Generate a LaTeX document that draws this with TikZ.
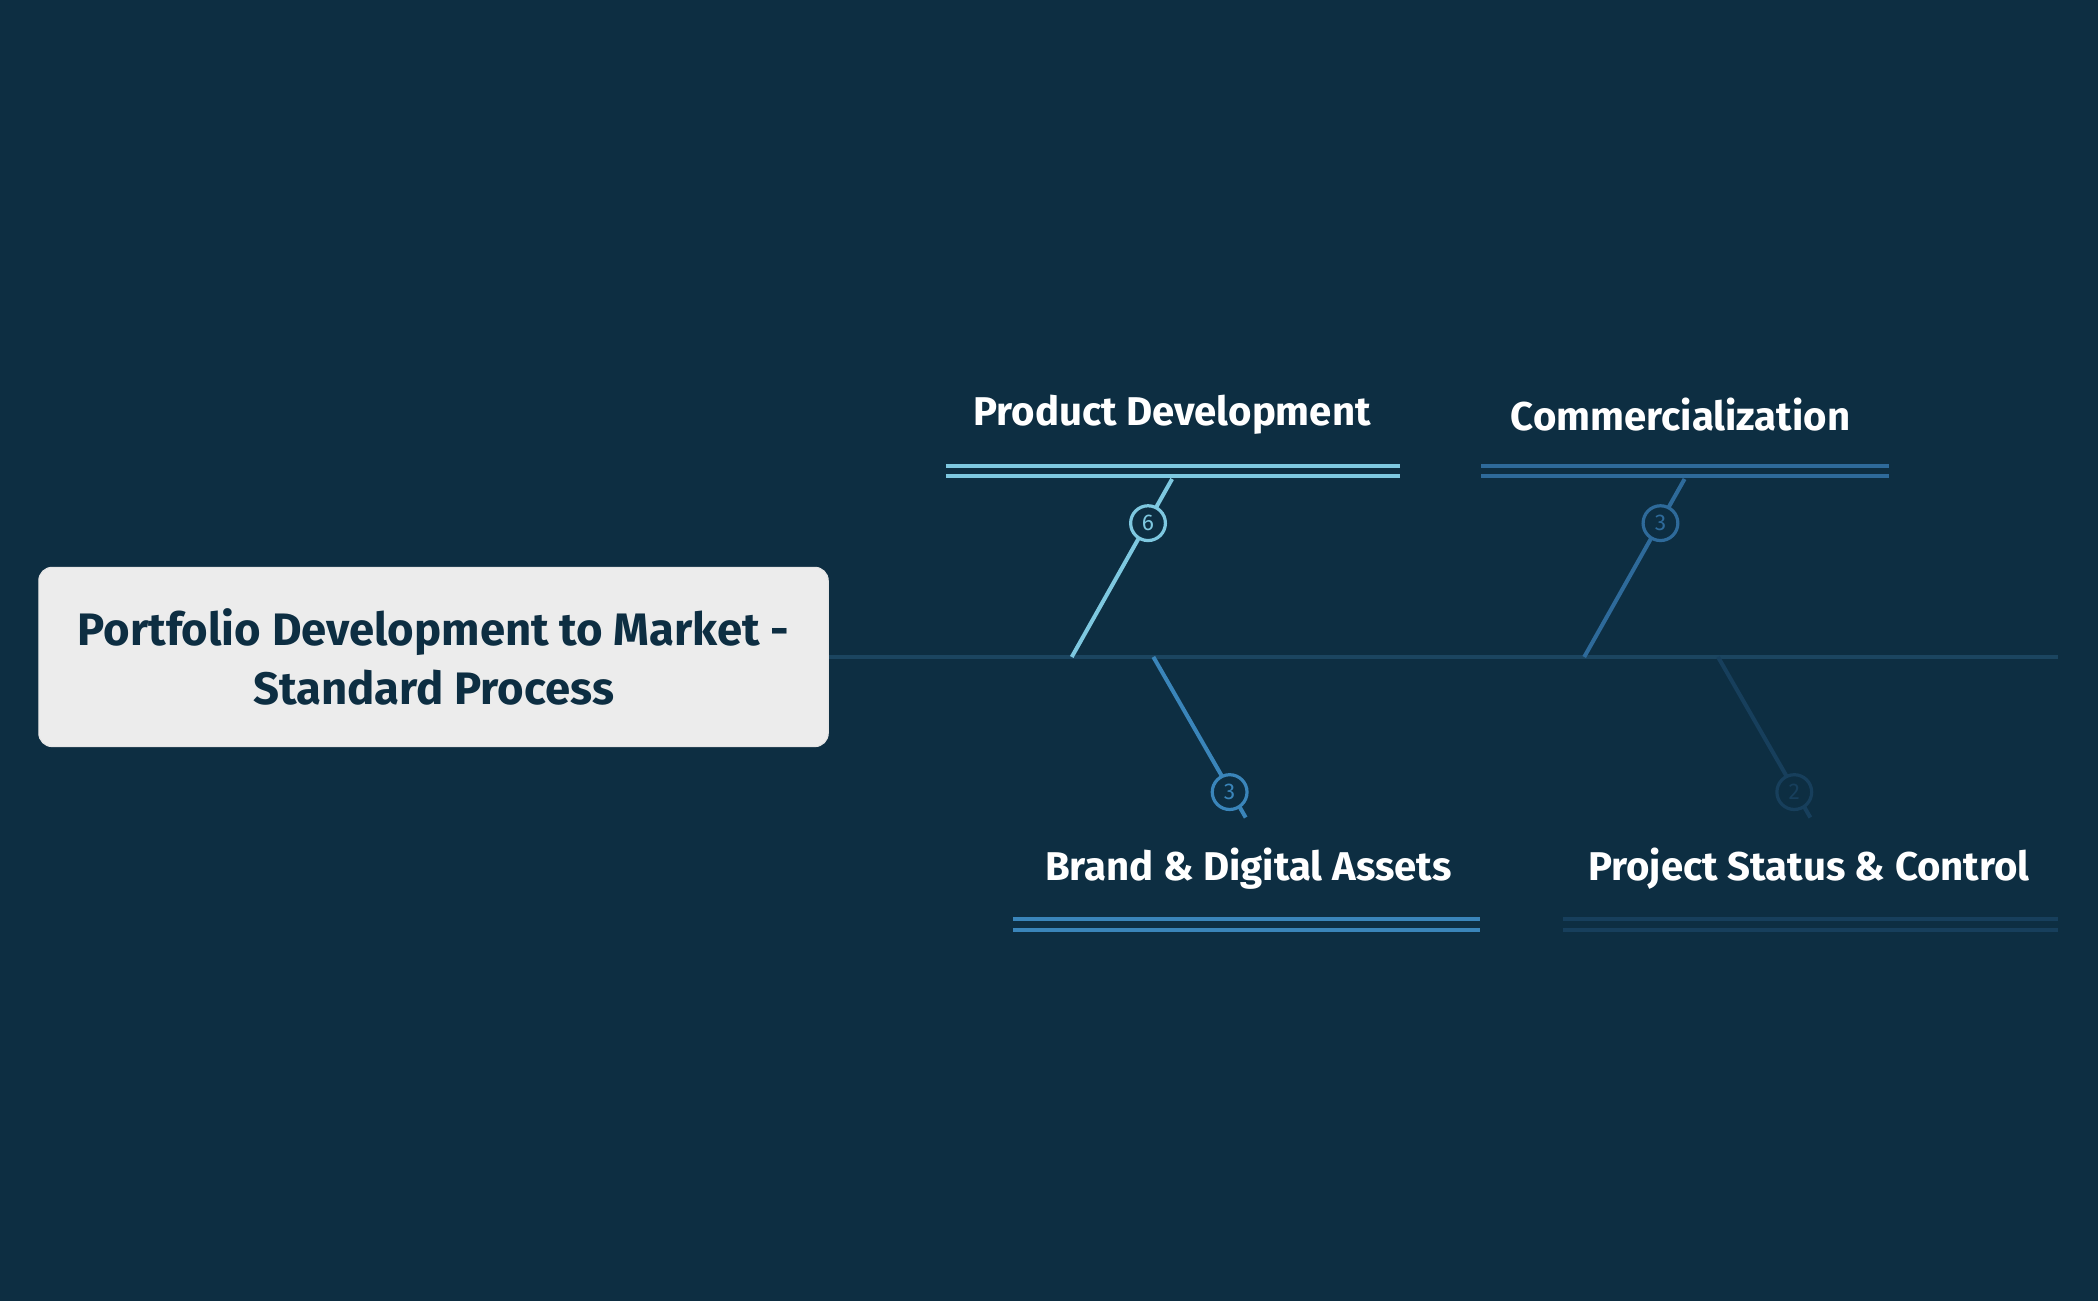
\documentclass[tikz,border=0pt]{standalone}
\usepackage{fontspec}
\setmainfont{Fira Sans}
\begin{document}
\begin{tikzpicture}[x=0.5pt,y=-0.5pt,
  lbl/.style={text=white,font=\fontsize{15}{18}\selectfont\bfseries,inner sep=0pt},
  cnt/.style={circle,draw=#1,fill=bg,text=#1,line width=1.2pt,minimum size=13pt,inner sep=0pt,font=\fontsize{8.5}{9}\selectfont},
  br/.style={draw=#1,line width=1.5pt}]
\definecolor{bg}{HTML}{0D2E42}
\definecolor{spine}{HTML}{1B4560}
\definecolor{cA}{HTML}{7EC8E0}
\definecolor{cB}{HTML}{2E6A9A}
\definecolor{cC}{HTML}{3A85BA}
\definecolor{cD}{HTML}{173F5C}
\fill[bg] (0,0) rectangle (1568,972);
\useasboundingbox (0,0) rectangle (1568,972);
% spine
\coordinate (s0) at (619,491); \coordinate (s1) at (1538,491);
\draw[spine,line width=1.5pt] (s0) -- (s1);
% head
\node[draw=white!80!gray,fill=white!85!gray,rounded corners=5pt,minimum width=295pt,minimum height=67pt,
  text=bg,align=center,font=\fontsize{17}{22}\selectfont\bfseries] (head) at (324,491)
  {Portfolio Development to Market -\\Standard Process};
% Product Development
\node[lbl] (pd) at (876,310) {Product Development};
\draw[cA,line width=1.5pt] (707,348) -- (1046,348) (707,356) -- (1046,356);
\coordinate (pdt) at (876,358); \coordinate (pdb) at (801,491);
\draw[br=cA] (pdb) -- (pdt);
\node[cnt=cA] (pdn) at (858,391) {6};
% Commercialization
\node[lbl] (cm) at (1256,310) {Commercialization};
\draw[cB,line width=1.5pt] (1107,348) -- (1412,348) (1107,356) -- (1412,356);
\coordinate (cmt) at (1259,358); \coordinate (cmb) at (1184,491);
\draw[br=cB] (cmb) -- (cmt);
\node[cnt=cB] (cmn) at (1241,391) {3};
% Brand
\node[lbl] (bd) at (933,649) {Brand \& Digital Assets};
\draw[cC,line width=1.5pt] (757,687) -- (1106,687) (757,695) -- (1106,695);
\coordinate (bdt) at (862,491); \coordinate (bdb) at (931,611);
\draw[br=cC] (bdt) -- (bdb);
\node[cnt=cC] (bdn) at (919,592) {3};
% Project status
\node[lbl] (ps) at (1352,649) {Project Status \& Control};
\draw[cD,line width=1.5pt] (1168,687) -- (1538,687) (1168,695) -- (1538,695);
\coordinate (pst) at (1284,491); \coordinate (psb) at (1353,611);
\draw[br=cD] (pst) -- (psb);
\node[cnt=cD] (psn) at (1341,592) {2};
\end{tikzpicture}
\end{document}
